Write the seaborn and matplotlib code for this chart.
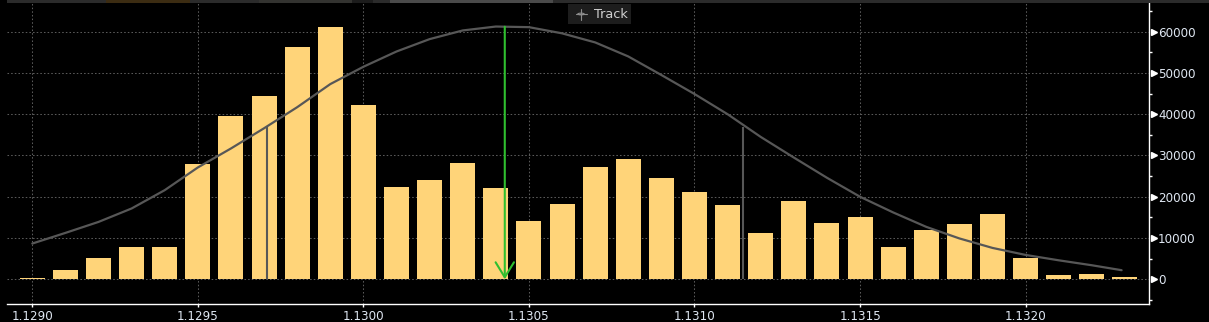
import matplotlib
matplotlib.use("Agg")
import matplotlib.pyplot as plt
import seaborn as sns
import pandas as pd
from matplotlib.patches import Rectangle, Circle
from matplotlib.lines import Line2D
from matplotlib.ticker import FixedLocator, MultipleLocator

# ---------------- data ----------------
bin_prices = [1.1290, 1.1291, 1.1292, 1.1293, 1.1294, 1.1295, 1.1296, 1.1297, 1.1298, 1.1299,
              1.1300, 1.1301, 1.1302, 1.1303, 1.1304, 1.1305, 1.1306, 1.1307, 1.1308, 1.1309,
              1.1310, 1.1311, 1.1312, 1.1313, 1.1314, 1.1315, 1.1316, 1.1317, 1.1318, 1.1319,
              1.1320, 1.1321, 1.1322, 1.1323]
volumes = [300, 2200, 5100, 7800, 7800, 27900, 39600, 44500, 56300, 61200,
           42200, 22400, 24100, 28200, 22100, 14100, 18200, 27200, 29100, 24500,
           21100, 18000, 11200, 18900, 13600, 15100, 7800, 11900, 13400, 15800,
           5100, 1000, 1200, 500]

curve_x = [1.1290, 1.1291, 1.1292, 1.1293, 1.1294, 1.1295, 1.1296, 1.1297, 1.1298, 1.1299,
           1.1300, 1.1301, 1.1302, 1.1303, 1.1304, 1.1305, 1.1306, 1.1307, 1.1308, 1.1309,
           1.1310, 1.1311, 1.1312, 1.1313, 1.1314, 1.1315, 1.1316, 1.1317, 1.1318, 1.1319,
           1.1320, 1.1321, 1.1322, 1.13229]
curve_y = [8660, 11240, 13900, 17160, 21600, 27100, 31700, 36600, 41700, 47300,
           51500, 55200, 58200, 60300, 61250, 61100, 59600, 57400, 54000, 49500,
           44900, 40000, 34500, 29500, 24600, 20000, 16200, 12700, 9900, 7600,
           5900, 4600, 3400, 2200]

sigma_x = [1.12971, 1.131146]
sigma_top = [37000, 37000]
peak_x = 1.130427
peak_top = 61200

x_ticks = [1.1290, 1.1295, 1.1300, 1.1305, 1.1310, 1.1315, 1.1320]
x_tick_labels = ["1.1290", "1.1295", "1.1300", "1.1305", "1.1310", "1.1315", "1.1320"]
y_ticks = [0, 10000, 20000, 30000, 40000, 50000, 60000]
y_tick_labels = ["0", "10000", "20000", "30000", "40000", "50000", "60000"]
track_label = "Track"

# ---------------- style ----------------
W, H = 1209, 322
bar_color = "#FFD479"
curve_color = "#575757"
green = "#2FBF2F"
grid_color = "#5a5a5a"
label_color = "#dfe7f2"

sns.set_theme(style="dark")
plt.rcParams["font.family"] = ["DejaVu Sans"]

fig = plt.figure(figsize=(W / 100, H / 100), dpi=100, facecolor="black")
left_px, right_px, top_px, bottom_px = 7.3, 1149.3, 3.3, 304.0
ax = fig.add_axes([left_px / W, 1 - bottom_px / H, (right_px - left_px) / W, (bottom_px - top_px) / H])
ax.set_facecolor("black")

df = pd.DataFrame({"price": bin_prices, "volume": volumes})
sns.barplot(data=df, x="price", y="volume", native_scale=True, width=0.755,
            color=bar_color, saturation=1, errorbar=None, linewidth=0,
            edgecolor="none", ax=ax, zorder=2)

sns.lineplot(x=curve_x, y=curve_y, color=curve_color, linewidth=1.6, sort=False,
             ax=ax, zorder=3)

ax.vlines(sigma_x, 0, sigma_top, color=curve_color, linewidth=1.5, zorder=3)

ax.annotate("", xy=(peak_x, 0), xytext=(peak_x, peak_top),
            arrowprops=dict(arrowstyle="->,head_length=0.9,head_width=0.55",
                            color=green, lw=1.5, shrinkA=0, shrinkB=0),
            zorder=4)

ax.set_xlim(1.1289245, 1.1323736)
ax.set_ylim(-5990, 66880)

ax.set_axisbelow(True)
ax.grid(True, which="major", color=grid_color, linestyle=(0, (1.5, 2.0)), linewidth=0.75)

ax.xaxis.set_major_locator(FixedLocator(x_ticks))
ax.set_xticklabels(x_tick_labels)
ax.yaxis.tick_right()
ax.yaxis.set_major_locator(FixedLocator(y_ticks))
ax.set_yticklabels(y_tick_labels)
ax.yaxis.set_minor_locator(MultipleLocator(5000))
ax.set_xlabel("")
ax.set_ylabel("")

for s in ["left", "top"]:
    ax.spines[s].set_visible(False)
for s in ["right", "bottom"]:
    ax.spines[s].set_visible(True)
    ax.spines[s].set_color("white")
    ax.spines[s].set_linewidth(1.0)

ax.tick_params(axis="y", which="major", length=0, pad=6.3, labelsize=8.6,
               labelcolor=label_color, right=True, left=False)
ax.tick_params(axis="y", which="minor", length=2.3, width=1, color="white",
               direction="out", right=True, left=False)
ax.tick_params(axis="x", which="major", length=2.5, width=1, color="white",
               direction="out", pad=1.5, labelsize=8.6, labelcolor=label_color, bottom=True)

# triangle markers for major y ticks
ax.plot([1.0037] * len(y_ticks), y_ticks, marker=">", linestyle="none", color="white",
        markersize=5, transform=ax.get_yaxis_transform(), clip_on=False, zorder=5)

# ---------------- chrome ----------------
def frect(x0, y0, x1, y1, color):
    fig.add_artist(Rectangle((x0 / W, 1 - y1 / H), (x1 - x0) / W, (y1 - y0) / H,
                             transform=fig.transFigure, facecolor=color, edgecolor="none"))

frect(7, 0, 1209, 2.8, "#2b2b2b")
frect(106, 0, 190, 2.8, "#3c2c12")
frect(259, 0, 352, 2.8, "#333330")
frect(352, 0, 373, 2.8, "#1c1c1c")
frect(390, 0, 553, 2.8, "#4a4a4a")

# Track box
frect(568, 4, 631, 24, "#1d1d1d")
ic = "#8c8c8c"
cx, cy = 581, 14
fig.add_artist(Circle((cx / W, 1 - cy / H), 3.2 / W, transform=fig.transFigure,
                      fill=False, edgecolor=ic, linewidth=0.8))
fig.add_artist(Line2D([(cx - 5.5) / W, (cx + 5.5) / W], [1 - cy / H, 1 - cy / H],
                      transform=fig.transFigure, color=ic, linewidth=0.8))
fig.add_artist(Line2D([cx / W, cx / W], [1 - (cy - 5.5) / H, 1 - (cy + 5.5) / H],
                      transform=fig.transFigure, color=ic, linewidth=0.8))
fig.text(594 / W, 1 - 14.5 / H, track_label, ha="left", va="center", fontsize=9.3,
         color="#d0d0d0")

fig.savefig("out.png", dpi=100, facecolor="black")
